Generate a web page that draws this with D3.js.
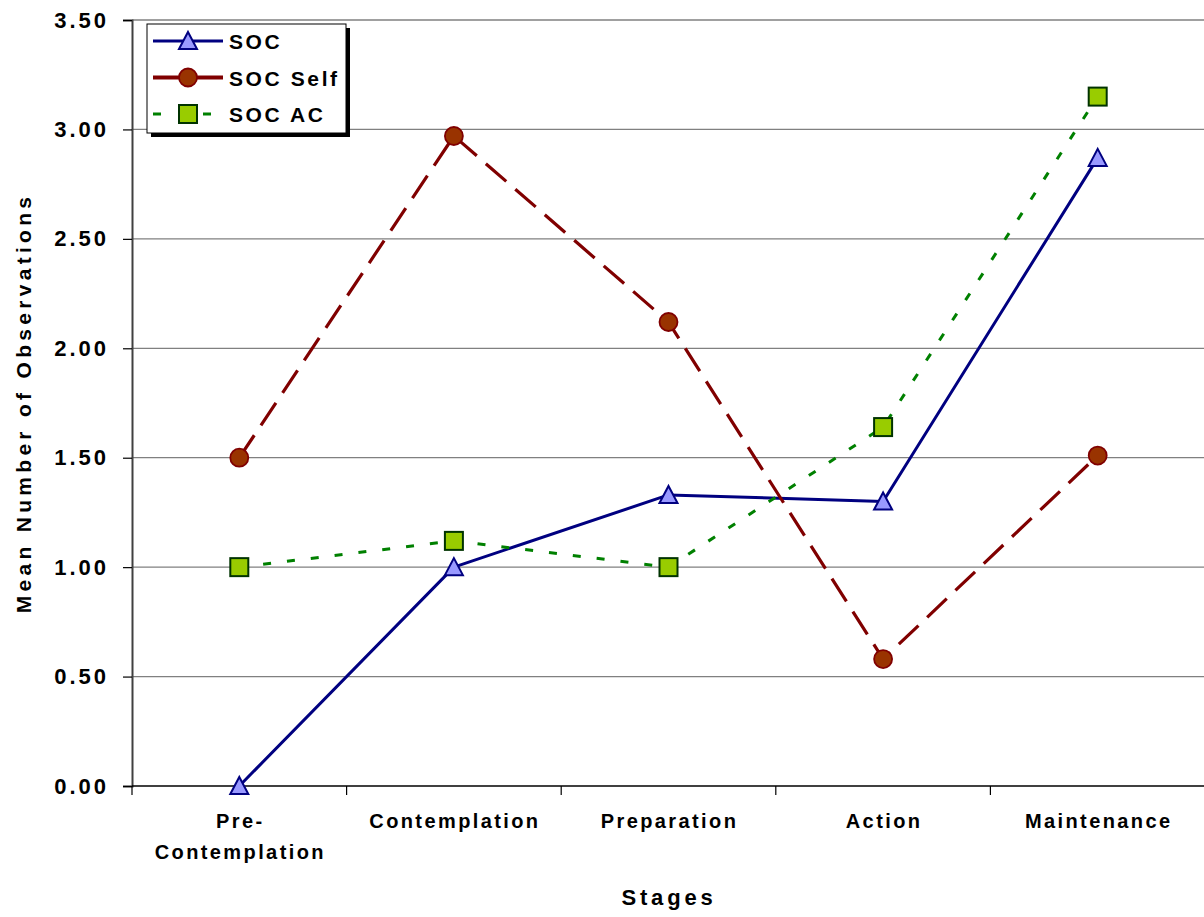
<!DOCTYPE html>
<html><head><meta charset="utf-8">
<script src="https://cdn.jsdelivr.net/npm/d3@7"></script>
<style>
html,body{margin:0;padding:0;background:#fff;}
text{font-family:"Liberation Sans",Arial,sans-serif;font-weight:bold;fill:#000;}
</style></head>
<body>
<svg id="chart" width="1204" height="917"></svg>
<script>
const categories = [["Pre-","Contemplation"],["Contemplation"],["Preparation"],["Action"],["Maintenance"]];
const seriesNames = ["SOC","SOC Self","SOC AC"];
const socValues = [0.00, 1.00, 1.33, 1.30, 2.87];
const socSelfValues = [1.50, 2.97, 2.12, 0.58, 1.51];
const socAcValues = [1.00, 1.12, 1.00, 1.64, 3.15];
const yTicks = [0, 0.5, 1, 1.5, 2, 2.5, 3, 3.5];
const xTitle = "Stages";
const yTitle = "Mean Number of Observations";

(function(){
const svg = d3.select("#chart");
const pLeft = 132, pRight = 1205, pTop = 20, pBottom = 786;
const keys = categories.map((c,i)=>i);
const x = d3.scaleBand().domain(keys).range([pLeft, pRight]).padding(0);
const cx = i => x(i) + x.bandwidth()/2;
const y = d3.scaleLinear().domain([0, 3.5]).range([pBottom, pTop]);

// gridlines
svg.append("g").selectAll("line").data(yTicks.filter(t=>t>0)).join("line")
  .attr("x1", pLeft).attr("x2", 1204).attr("y1", d=>y(d)).attr("y2", d=>y(d))
  .attr("stroke", "#808080").attr("stroke-width", 1.3);

// y axis
const yAxis = d3.axisLeft(y).tickValues(yTicks).tickFormat(d3.format(".2f")).tickSize(9).tickPadding(14);
const yg = svg.append("g").attr("transform", `translate(${pLeft},0)`).call(yAxis);
yg.select(".domain").attr("stroke", "#404040").attr("stroke-width", 2);
yg.selectAll(".tick line").attr("stroke", "#000").attr("stroke-width", 1.2);
yg.selectAll(".tick text").style("font-size", "22px").style("letter-spacing", "3px")
  .style("font-family", '"Liberation Sans",Arial,sans-serif').style("font-weight","bold").attr("fill","#000");

// x axis
const xg = svg.append("g").attr("transform", `translate(0,${pBottom})`);
xg.append("line").attr("x1", pLeft).attr("x2", 1204).attr("y1", 0).attr("y2", 0).attr("stroke", "#000").attr("stroke-width", 1.5);
const bounds = keys.map(i => x(i));
xg.selectAll("line.tk").data(bounds).join("line").attr("class","tk")
  .attr("x1", d=>d).attr("x2", d=>d).attr("y1", 0).attr("y2", 9).attr("stroke", "#000").attr("stroke-width", 1.2);
categories.forEach((lines, i) => {
  const t = xg.append("text").attr("text-anchor", "middle").style("font-size", "20px").style("letter-spacing", "2.4px");
  lines.forEach((ln, j) => {
    t.append("tspan").attr("x", cx(i) + 1).attr("y", 42 + j*31).text(ln);
  });
});

// titles
svg.append("text").attr("x", 669).attr("y", 905).attr("text-anchor", "middle")
  .style("font-size", "22px").style("letter-spacing", "3.8px").text(xTitle);
svg.append("text").attr("transform", "translate(31,403) rotate(-90)").attr("text-anchor", "middle")
  .style("font-size", "21px").style("letter-spacing", "4.3px").text(yTitle);

// series
const styles = [
  {name: seriesNames[0], values: socValues, stroke: "#000080", width: 3, dash: null, marker: "tri", fill: "#9999FF", mstroke: "#000080"},
  {name: seriesNames[1], values: socSelfValues, stroke: "#800000", width: 3.2, dash: "27,12", marker: "circle", fill: "#993300", mstroke: "#800000"},
  {name: seriesNames[2], values: socAcValues, stroke: "#008000", width: 3, dash: "8,16", marker: "square", fill: "#99CC00", mstroke: "#003300"}
];
const line = d3.line().x((d,i)=>cx(i)).y(d=>y(d));

function drawMarker(g, type, px, py, s) {
  if (type === "tri") {
    g.append("path").attr("d", `M${px},${py-9} L${px+9},${py+8} L${px-9},${py+8} Z`)
      .attr("fill", s.fill).attr("stroke", s.mstroke).attr("stroke-width", 2).attr("stroke-linejoin","miter");
  } else if (type === "circle") {
    g.append("circle").attr("cx", px).attr("cy", py).attr("r", 9)
      .attr("fill", s.fill).attr("stroke", s.mstroke).attr("stroke-width", 1.8);
  } else {
    g.append("rect").attr("x", px-9).attr("y", py-9).attr("width", 18).attr("height", 18)
      .attr("fill", s.fill).attr("stroke", s.mstroke).attr("stroke-width", 2);
  }
}

styles.forEach(s => {
  svg.append("path").datum(s.values).attr("d", line)
    .attr("fill", "none").attr("stroke", s.stroke).attr("stroke-width", s.width)
    .attr("stroke-dasharray", s.dash).attr("stroke-linejoin", "round");
});
styles.forEach(s => {
  const g = svg.append("g");
  s.values.forEach((v,i) => drawMarker(g, s.marker, cx(i), y(v), s));
});

// legend
const lg = svg.append("g");
lg.append("rect").attr("x", 151).attr("y", 28).attr("width", 199).attr("height", 109).attr("fill", "#000");
lg.append("rect").attr("x", 147).attr("y", 24).attr("width", 199).attr("height", 109).attr("fill", "#fff").attr("stroke", "#000").attr("stroke-width", 1);
styles.forEach((s, i) => {
  const ly = 41 + i*36.5;
  const g = lg.append("g");
  g.append("line").attr("x1", 153).attr("x2", 223).attr("y1", ly).attr("y2", ly)
    .attr("stroke", s.stroke).attr("stroke-width", i===1 ? 4 : s.width).attr("stroke-dasharray", s.dash ? (i===2 ? "8,17" : null) : null);
  drawMarker(g, s.marker, 188, ly, s);
  g.append("text").attr("x", 229).attr("y", ly + 8).style("font-size", "21px").style("letter-spacing", "2.6px").text(s.name);
});
})();
</script>
</body></html>
